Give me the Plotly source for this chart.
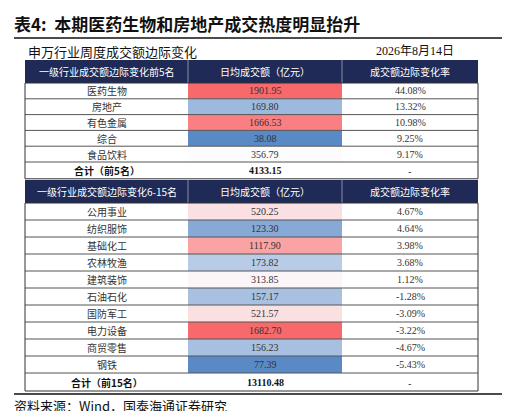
import plotly.graph_objects as go

title = "表4:  本期医药生物和房地产成交热度明显抬升"
subtitle = "申万行业周度成交额边际变化"
date_label = "2026年8月14日"
source = "资料来源：Wind，国泰海通证券研究"

head1 = ["一级行业成交额边际变化前5名", "日均成交额（亿元）", "成交额边际变化率"]
head2 = ["一级行业成交额边际变化6-15名", "日均成交额（亿元）", "成交额边际变化率"]

top_names = ["医药生物", "房地产", "有色金属", "综合", "食品饮料"]
top_amt = [1901.95, 169.80, 1666.53, 38.08, 356.79]
top_chg = ["44.08%", "13.32%", "10.98%", "9.25%", "9.17%"]
top_total = 4133.15

bot_names = ["公用事业", "纺织服饰", "基础化工", "农林牧渔", "建筑装饰",
             "石油石化", "国防军工", "电力设备", "商贸零售", "钢铁"]
bot_amt = [520.25, 123.30, 1117.90, 173.82, 313.85, 157.17, 521.57, 1682.70, 156.23, 77.39]
bot_chg = ["4.67%", "4.64%", "3.98%", "3.68%", "1.12%",
           "-1.28%", "-3.09%", "-3.22%", "-4.67%", "-5.43%"]
bot_total = 13110.48

NAVY = "#1f2a56"
BLUE = (90, 138, 198)
WHITE = (252, 252, 255)
RED = (248, 105, 107)
FONT = "Noto Sans CJK SC"
NUMFONT = "Liberation Serif, Noto Sans CJK SC"


def scale_color(v, vals):
    s = sorted(vals)
    lo, hi = s[0], s[-1]
    n = len(s)
    mid = s[n // 2] if n % 2 else (s[n // 2 - 1] + s[n // 2]) / 2
    if v <= mid:
        t = (v - lo) / (mid - lo) if mid > lo else 1
        a, b = BLUE, WHITE
    else:
        t = (v - mid) / (hi - mid)
        a, b = WHITE, RED
    c = [round(a[i] + (b[i] - a[i]) * t) for i in range(3)]
    return "rgb(%d,%d,%d)" % tuple(c)


cols = [17, 180, 334, 470]
shapes, ann = [], []


def rect(x0, x1, y0, y1, fill):
    shapes.append(dict(type="rect", xref="x", yref="y", x0=x0, x1=x1, y0=y0, y1=y1,
                       fillcolor=fill, line=dict(width=0), layer="below"))


def text(x, y, s, size=10, color="#222", bold=False, anchor="center", font=FONT):
    ann.append(dict(x=x, y=y, xref="x", yref="y", text="<b>%s</b>" % s if bold else s,
                    showarrow=False, xanchor=anchor, font=dict(size=size, color=color, family=font)))


def header(y0, y1, labels):
    rect(cols[0], cols[3], y0, y1, NAVY)
    for i, lab in enumerate(labels):
        text((cols[i] + cols[i + 1]) / 2, (y0 + y1) / 2, lab, size=10, color="white")
    for x in cols[1:3]:
        shapes.append(dict(type="line", x0=x, x1=x, y0=y0, y1=y1, line=dict(color="#8a8fa8", width=1)))


def block(y0, h, names, amt, chg, total, total_label):
    for i, (n, a, c) in enumerate(zip(names, amt, chg)):
        ya, yb = y0 + i * h, y0 + (i + 1) * h
        rect(cols[1], cols[2], ya, yb, scale_color(a, amt))
        text((cols[0] + cols[1]) / 2, (ya + yb) / 2, n, size=10, color="#333")
        text((cols[1] + cols[2]) / 2, (ya + yb) / 2, "%.2f" % a, size=10, color="#333", font=NUMFONT)
        text((cols[2] + cols[3]) / 2, (ya + yb) / 2, c, size=10, color="#333", font=NUMFONT)
        shapes.append(dict(type="line", x0=cols[0], x1=cols[3], y0=yb, y1=yb, line=dict(color="#555", width=1)))
    ya = y0 + len(names) * h
    yb = ya + h + 1
    text((cols[0] + cols[1]) / 2, (ya + yb) / 2, total_label, size=10, bold=True, color="#111")
    text((cols[1] + cols[2]) / 2, (ya + yb) / 2, "%.2f" % total, size=10, bold=True, color="#111", font=NUMFONT)
    text((cols[2] + cols[3]) / 2, (ya + yb) / 2, "-", size=10, color="#111")
    shapes.append(dict(type="rect", x0=cols[0], x1=cols[3], y0=y0, y1=yb, line=dict(color="#333", width=1)))
    return yb


header(52, 75, head1)
block(75, 15.8, top_names, top_amt, top_chg, top_total, "合计（前5名）")
header(172, 195, head2)
block(195, 17, bot_names, bot_amt, bot_chg, bot_total, "合计（前15名）")

text(4, 15, title, size=17, bold=True, color="#111", anchor="left")
shapes.append(dict(type="line", x0=6, x1=505, y0=30, y1=30, line=dict(color="#111", width=1.5)))
text(18, 43, subtitle, size=13, color="#111", anchor="left")
text(448, 43, date_label, size=12, color="#111", anchor="right", font=NUMFONT)
shapes.append(dict(type="line", x0=6, x1=505, y0=386, y1=386, line=dict(color="#111", width=1.5)))
text(4, 397, source, size=13, color="#111", anchor="left")

fig = go.Figure()
fig.update_layout(
    width=510, height=411, margin=dict(l=0, r=0, t=0, b=0),
    plot_bgcolor="white", paper_bgcolor="white",
    xaxis=dict(range=[0, 510], visible=False, fixedrange=True),
    yaxis=dict(range=[411, 0], visible=False, fixedrange=True),
    shapes=shapes, annotations=ann, showlegend=False,
)
fig.write_html("out.html")
